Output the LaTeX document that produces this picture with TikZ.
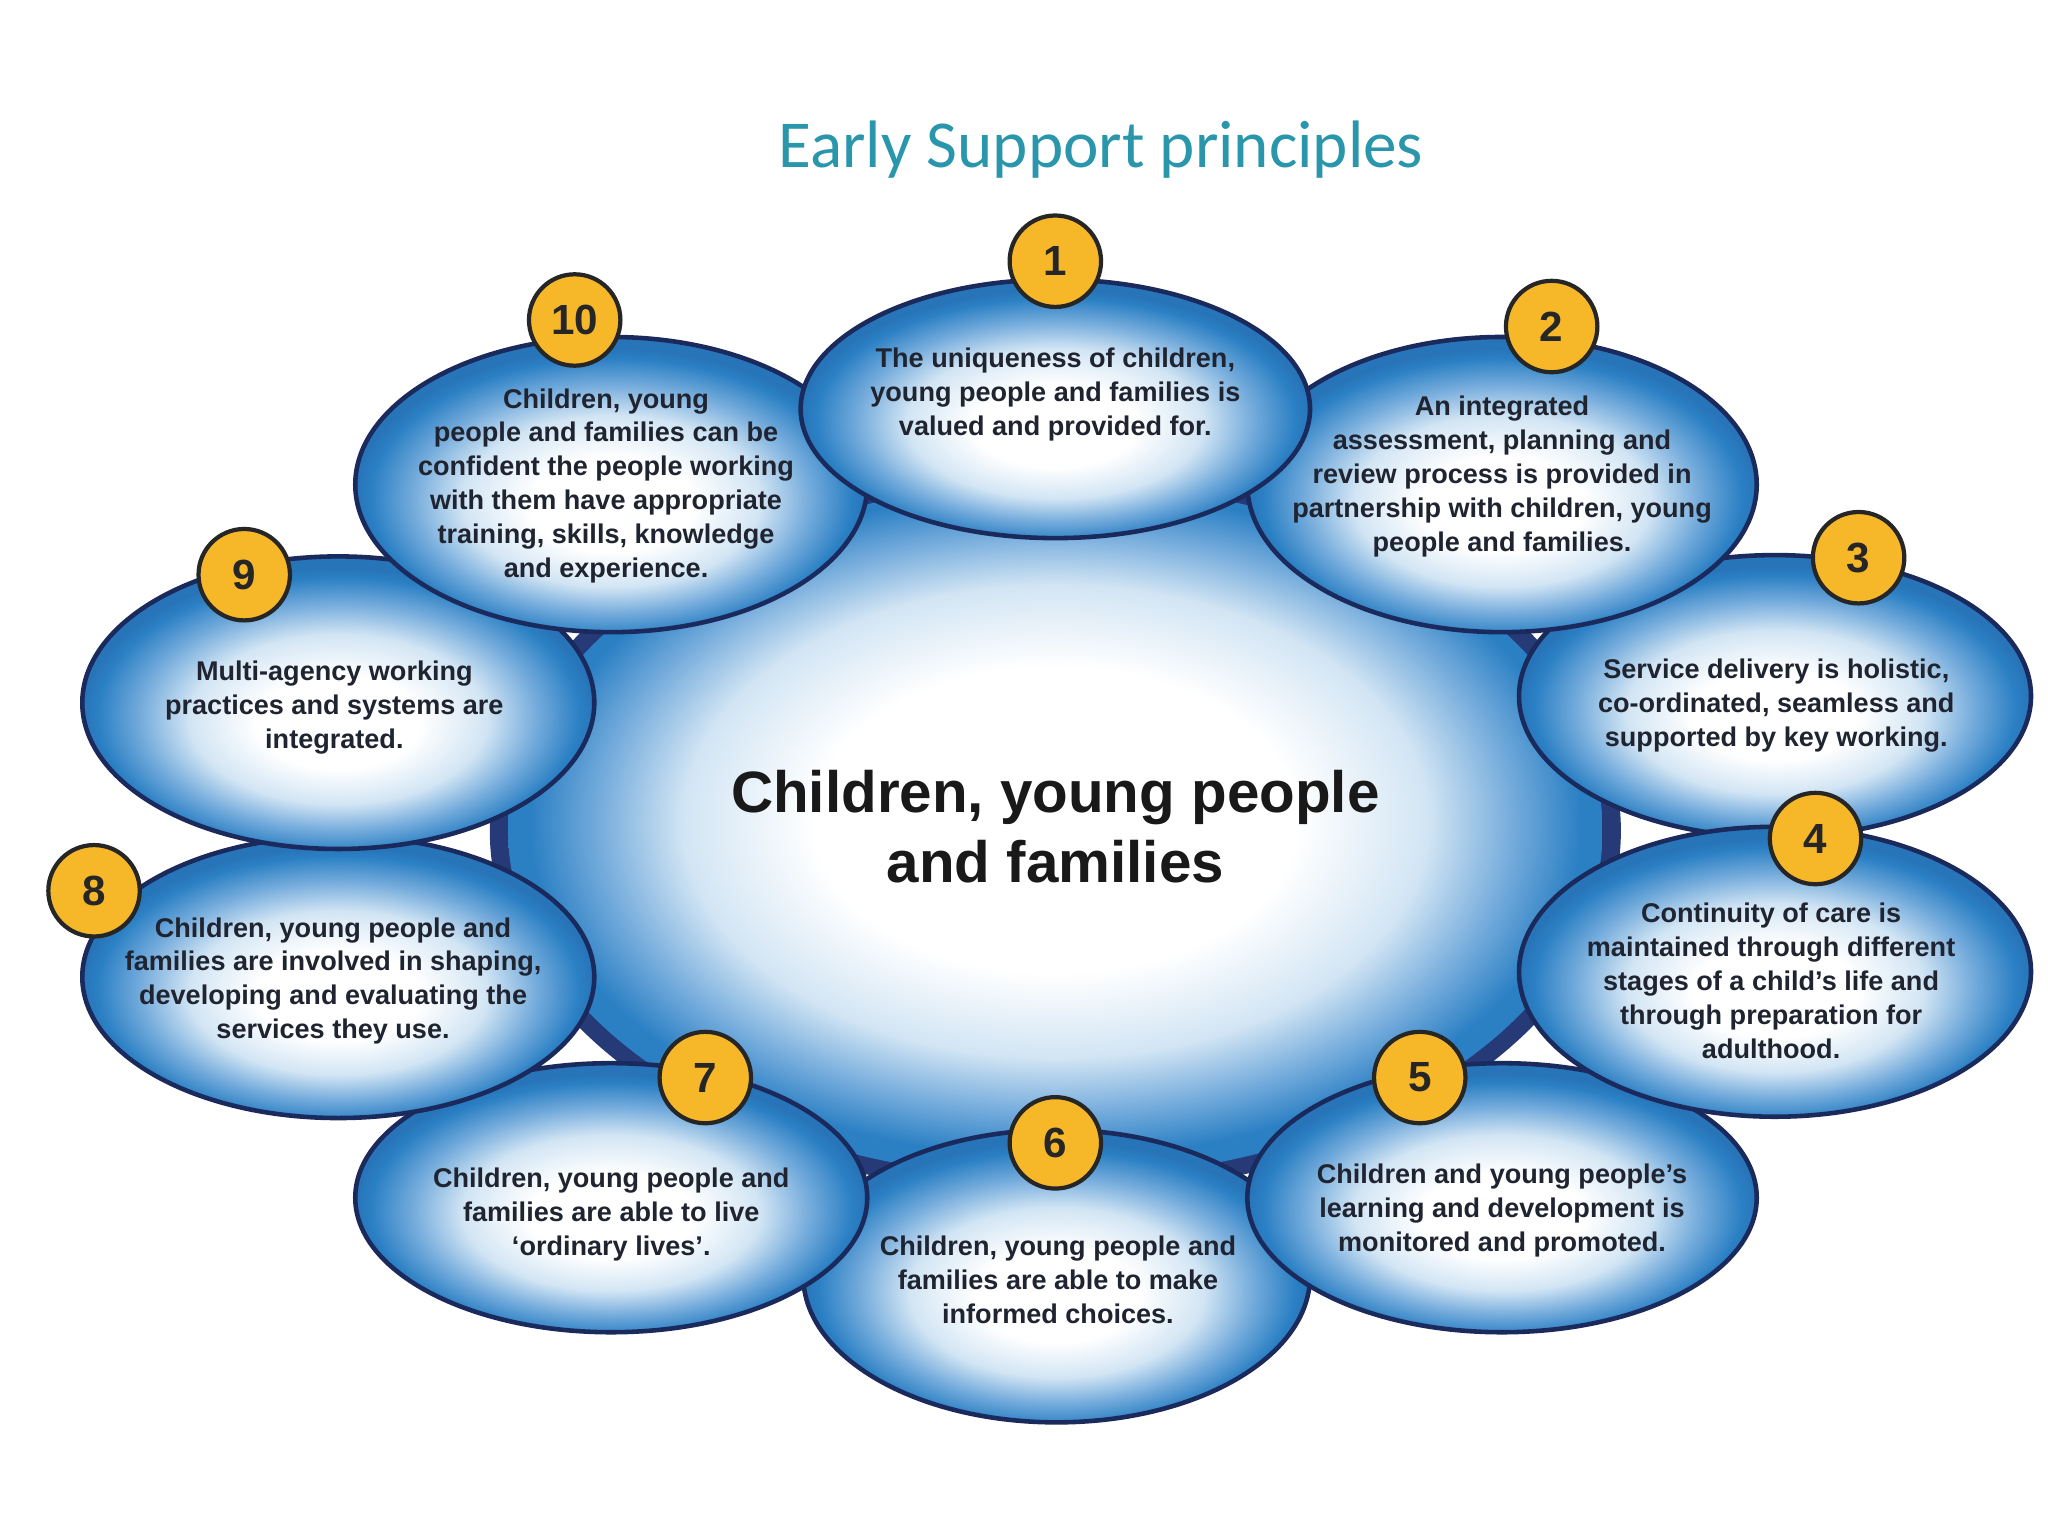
\documentclass[tikz,border=0pt]{standalone}
\usepackage{fontspec}
\setmainfont{Liberation Sans}
\newfontfamily\titlefont{Carlito}
\usetikzlibrary{shapes.geometric}
\definecolor{navy}{HTML}{1B2A5C}
\definecolor{wedge}{HTML}{263A78}
\definecolor{satedge}{HTML}{2B80C4}
\definecolor{satdeep}{HTML}{2874B9}
\definecolor{satmid}{HTML}{72AADB}
\definecolor{satpale}{HTML}{D2E5F4}
\definecolor{badgey}{HTML}{F6B828}
\definecolor{titleteal}{HTML}{2996AC}
\definecolor{txt}{HTML}{1F2430}
% the bounding box of a shaded path corresponds to the central 50bp square of the shading
\pgfdeclareradialshading{satshade}{\pgfpoint{0bp}{-4bp}}{color(0bp)=(white); color(8bp)=(white); color(14.5bp)=(satpale); color(19.5bp)=(satmid); color(23.5bp)=(satedge); color(25bp)=(satdeep); color(50bp)=(satdeep)}
\pgfdeclareradialshading{censhade}{\pgfpoint{0bp}{1bp}}{color(0bp)=(white); color(11bp)=(white); color(17bp)=(satpale); color(21bp)=(satmid); color(24bp)=(satedge); color(50bp)=(satedge)}
\def\uu{0.013061cm}
\tikzset{
  sat/.style={ellipse, draw=navy, line width=1.3pt, shade, shading=satshade, inner sep=0pt},
  cenbase/.style={ellipse, fill=wedge, draw=none, inner sep=0pt},
  cen/.style={ellipse, shade, shading=censhade, draw=none, inner sep=0pt},
  badge/.style={circle, draw=black!85, fill=badgey, line width=1.2pt, minimum size=70*\uu, inner sep=0pt,
    font=\fontsize{12}{12}\selectfont\bfseries, text=black!85},
  sattext/.style={align=center, text=txt, inner sep=0pt, font=\fontsize{7.7}{9.65}\selectfont\bfseries},
  centext/.style={align=center, text=black!90, inner sep=0pt, font=\fontsize{16.6}{20}\selectfont\bfseries},
  titletext/.style={text=titleteal, inner sep=0pt, font=\titlefont\fontsize{19.1}{22}\selectfont},
}
\begin{document}
\begin{tikzpicture}[x=0.013061cm, y=-0.013061cm]
\path[use as bounding box, fill=white] (0,0) rectangle (1568,1176);

% title
\node[titletext, anchor=base] (title) at (843,128) {Early Support principles};

% central shape: dark backing (visible only in the cusps) and shaded disc
\node[cenbase, minimum width=866*\uu, minimum height=558*\uu] (cbase) at (808,636) {};
\node[cen, minimum width=838*\uu, minimum height=532*\uu] (centre) at (808,636) {};

% satellites (drawing order chosen for overlaps)
\node[sat, minimum width=388*\uu, minimum height=224*\uu] (e6) at (809,977) {};
\node[sat, minimum width=392*\uu, minimum height=216*\uu] (e3) at (1359,533) {};
\node[sat, minimum width=390*\uu, minimum height=206*\uu] (e5) at (1150,917) {};
\node[sat, minimum width=392*\uu, minimum height=206*\uu] (e7) at (468,917) {};
\node[sat, minimum width=392*\uu, minimum height=222*\uu] (e4) at (1359,744) {};
\node[sat, minimum width=392*\uu, minimum height=216*\uu] (e8) at (259,748) {};
\node[sat, minimum width=392*\uu, minimum height=224*\uu] (e9) at (259,538) {};
\node[sat, minimum width=392*\uu, minimum height=226*\uu] (e10) at (468,371) {};
\node[sat, minimum width=390*\uu, minimum height=226*\uu] (e2) at (1150,371) {};
\node[sat, minimum width=390*\uu, minimum height=198*\uu] (e1) at (808,313) {};

% texts
\node[centext] (tc) at (808,633) {Children, young people\\and families};
\node[sattext] (t1) at (808,302) {The uniqueness of children,\\young people and families is\\valued and provided for.};
\node[sattext] (t2) at (1150,365) {An integrated\\assessment, planning and\\review process is provided in\\partnership with children, young\\people and families.};
\node[sattext] (t3) at (1360,540) {Service delivery is holistic,\\co-ordinated, seamless and\\supported by key working.};
\node[sattext] (t4) at (1356,751) {Continuity of care is\\maintained through different\\stages of a child’s life and\\through preparation for\\adulthood.};
\node[sattext] (t5) at (1150,927) {Children and young people’s\\learning and development is\\monitored and promoted.};
\node[sattext] (t6) at (810,980) {Children, young people and\\families are able to make\\informed choices.};
\node[sattext] (t7) at (468,930) {Children, young people and\\families are able to live\\‘ordinary lives’.};
\node[sattext] (t8) at (255,751) {Children, young people and\\families are involved in shaping,\\developing and evaluating the\\services they use.};
\node[sattext] (t9) at (256,542) {Multi-agency working\\practices and systems are\\integrated.};
\node[sattext] (t10) at (464,372) {Children, young\\people and families can be\\confident the people working\\with them have appropriate\\training, skills, knowledge\\and experience.};

% badges
\node[badge] (b1) at (808,200) {1};
\node[badge] (b2) at (1188,250) {2};
\node[badge] (b3) at (1423,427) {3};
\node[badge] (b4) at (1390,642) {4};
\node[badge] (b5) at (1087,825) {5};
\node[badge] (b6) at (808,875) {6};
\node[badge] (b7) at (540,825) {7};
\node[badge] (b8) at (72,682) {8};
\node[badge] (b9) at (187,440) {9};
\node[badge] (b10) at (440,245) {10};
\end{tikzpicture}
\end{document}
